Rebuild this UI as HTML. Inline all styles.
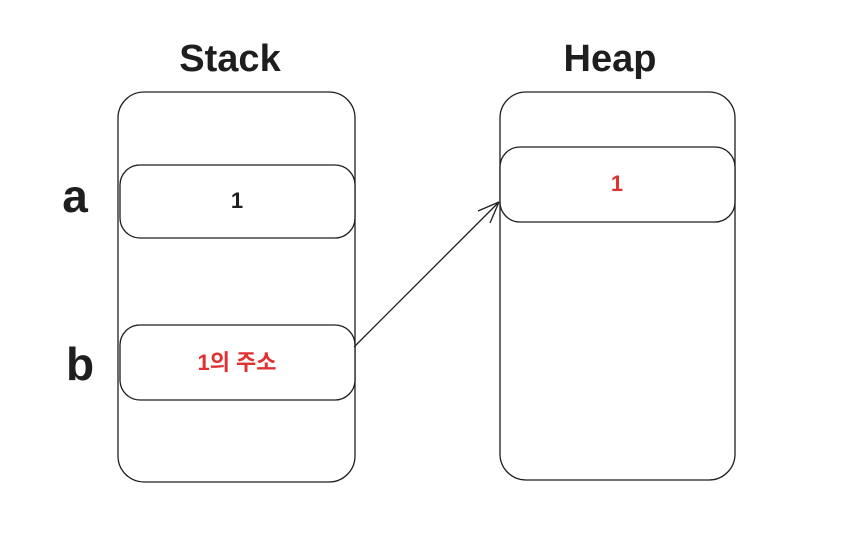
<!DOCTYPE html>
<html><head><meta charset="utf-8"><style>
html,body{margin:0;padding:0;background:#fff;}
svg{display:block;}
text{font-family:"Liberation Sans","Noto Sans CJK KR",sans-serif;}
</style></head><body>
<svg width="862" height="533" viewBox="0 0 862 533" xmlns="http://www.w3.org/2000/svg">
<g fill="none" stroke="#1e1e1e" stroke-width="1.3">
<rect x="118" y="92" width="237" height="390" rx="26"/>
<rect x="120" y="165" width="235" height="73" rx="20" fill="#fff"/>
<rect x="120" y="325" width="235" height="75" rx="20" fill="#fff"/>
<rect x="500" y="92" width="235" height="388" rx="26"/>
<rect x="500" y="147" width="235" height="75" rx="20" fill="#fff"/>
<g>
<line x1="354" y1="347" x2="499" y2="202"/>
<line x1="499" y1="202" x2="478" y2="211"/>
<line x1="499" y1="202" x2="490" y2="223"/>
</g>
</g>
<text x="230" y="71" font-size="38" font-weight="bold" text-anchor="middle" fill="#1e1e1e">Stack</text>
<text x="610" y="71" font-size="38" font-weight="bold" text-anchor="middle" fill="#1e1e1e">Heap</text>
<text x="75" y="212" font-size="46" font-weight="bold" text-anchor="middle" fill="#1e1e1e">a</text>
<text x="80" y="380" font-size="46" font-weight="bold" text-anchor="middle" fill="#1e1e1e">b</text>
<text x="237" y="208" font-size="22" font-weight="bold" text-anchor="middle" fill="#1e1e1e">1</text>
<text x="237" y="370" font-size="22" font-weight="bold" text-anchor="middle" fill="#e03131">1의 주소</text>
<text x="617" y="191" font-size="22" font-weight="bold" text-anchor="middle" fill="#e03131">1</text>
</svg>
</body></html>
